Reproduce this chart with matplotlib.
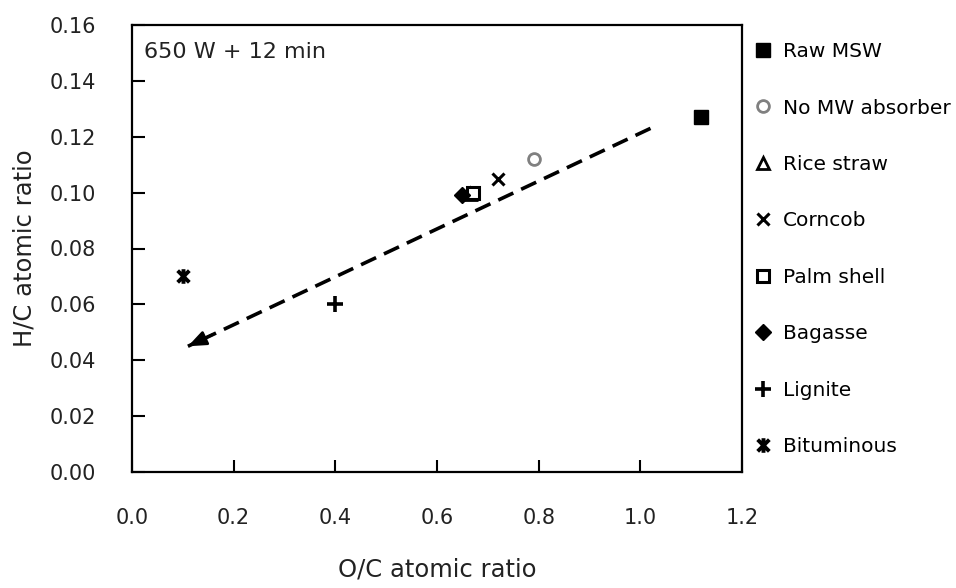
import matplotlib.pyplot as plt
from matplotlib.path import Path

# H/C vs O/C atomic ratio, 650 W + 12 min
labels = ['Raw MSW', 'No MW absorber', 'Rice straw', 'Corncob',
          'Palm shell', 'Bagasse', 'Lignite', 'Bituminous']
oc_ratio = [1.12, 0.79, 0.665, 0.72, 0.67, 0.65, 0.40, 0.10]
hc_ratio = [0.127, 0.112, 0.0995, 0.105, 0.100, 0.099, 0.060, 0.070]

# trend arrow (tail -> head) in data units
trend_oc = [1.02, 0.11]
trend_hc = [0.123, 0.045]

x_ticks = [0.0, 0.2, 0.4, 0.6, 0.8, 1.0, 1.2]
y_ticks = [0.00, 0.02, 0.04, 0.06, 0.08, 0.10, 0.12, 0.14, 0.16]

# excel-like "star" marker: an X with a vertical bar
star_marker = Path(
    [(-1, -1), (1, 1), (-1, 1), (1, -1), (0, -1.25), (0, 1.25)],
    [Path.MOVETO, Path.LINETO, Path.MOVETO, Path.LINETO, Path.MOVETO, Path.LINETO])

styles = [
    dict(marker='s', ms=10, mfc='black', mec='black'),
    dict(marker='o', ms=8.5, mfc='white', mec='#808080', mew=2),
    dict(marker='^', ms=9, mfc='white', mec='black', mew=2),
    dict(marker='x', ms=9, mec='black', mew=2.2),
    dict(marker='s', ms=8.5, mfc='white', mec='black', mew=2.2),
    dict(marker='D', ms=8.5, mfc='black', mec='black'),
    dict(marker='+', ms=11, mec='black', mew=2.6),
    dict(marker=star_marker, ms=10.5, mec='black', mew=2.8),
]

plt.rcParams['font.family'] = 'DejaVu Sans'

fig = plt.figure(figsize=(9.56, 5.88), dpi=100)
ax = fig.add_axes([132 / 956, 1 - 472 / 588, 610 / 956, 447 / 588])

handles = []
for x, y, lab, st in zip(oc_ratio, hc_ratio, labels, styles):
    h, = ax.plot([x], [y], linestyle='none', label=lab, **st)
    handles.append(h)

# dashed trend line with solid head
ax.plot(trend_oc, trend_hc, color='black', lw=2.6, dashes=(4.6, 2.4),
        solid_capstyle='butt', dash_capstyle='butt')
ax.annotate('', xy=(trend_oc[1], trend_hc[1]),
            xytext=(trend_oc[1] + 0.05, trend_hc[1] + 0.0043),
            arrowprops=dict(arrowstyle='-|>,head_length=0.55,head_width=0.22',
                            color='black', lw=2,
                            mutation_scale=20, shrinkA=0, shrinkB=0))

ax.set_xlim(0, 1.2)
ax.set_ylim(0, 0.16)
ax.set_xticks(x_ticks)
ax.set_yticks(y_ticks)
ax.set_xticklabels([f'{v:.1f}' for v in x_ticks])
ax.set_yticklabels([f'{v:.2f}' for v in y_ticks])
ax.tick_params(direction='in', length=9, width=1.5, pad=26,
               labelsize=15, colors='black', labelcolor='#222222')
for sp in ax.spines.values():
    sp.set_linewidth(1.6)

ax.set_xlabel('O/C atomic ratio', fontsize=17.5, labelpad=21, color='#222222')
ax.set_ylabel('H/C atomic ratio', fontsize=17.5, labelpad=9, color='#222222')
ax.text(0.02, 0.94, '650 W + 12 min', transform=ax.transAxes,
        fontsize=16, va='center', ha='left', color='#222222')

fig.legend(handles=handles, loc='upper left',
           bbox_to_anchor=(745 / 956, 1 - 34 / 588),
           frameon=False, fontsize=14.5, handlelength=1.0,
           handletextpad=0.5, labelspacing=1.86, borderaxespad=0)

fig.savefig('out.png', dpi=100)
